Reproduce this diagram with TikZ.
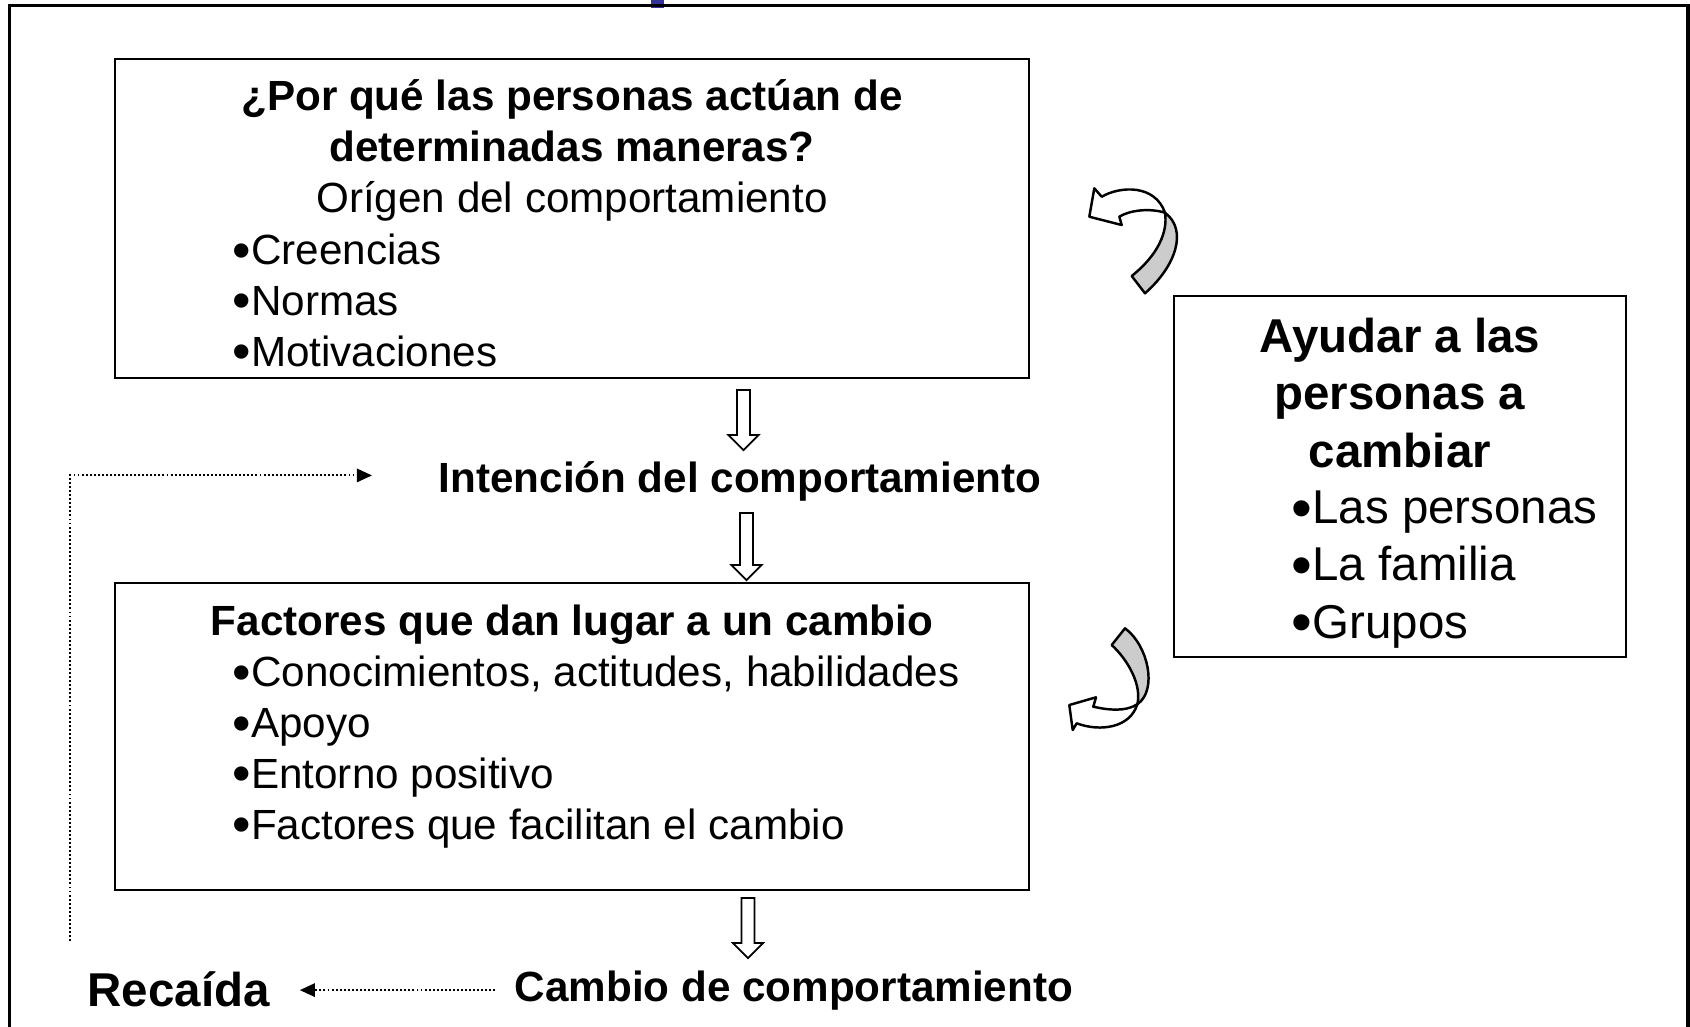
\documentclass[tikz,border=0pt]{standalone}
\usepackage{fontspec}
\setmainfont{Liberation Sans}
\usetikzlibrary{arrows.meta}
\definecolor{slideblue}{RGB}{51,51,153}

% slightly larger bullet, as in the slide
\newcommand{\bul}{\raisebox{-0.09em}{\scalebox{1.25}{•}}}
% hollow block arrow: x of axis, y of top, y of tip
\newcommand{\hollowarrow}[3]{%
  \draw[hollowline] (#1-6.5,#2) -- (#1+6.5,#2) -- (#1+6.5,#3-15) -- (#1+15,#3-15)
    -- (#1,#3) -- (#1-15,#3-15) -- (#1-6.5,#3-15) -- cycle;}

\begin{document}
\begin{tikzpicture}[x=0.01cm, y=-0.01cm,
    box/.style={draw, line width=0.6pt, inner sep=0pt},
    txt/.style={inner sep=0pt, font=\fontsize{12}{14.46}\selectfont},
    bigtxt/.style={inner sep=0pt, font=\fontsize{13.5}{16.25}\selectfont},
    hollowline/.style={draw, fill=white, line width=0.5pt, line join=miter},
    dotarrow/.style={line width=0.6pt, dash pattern=on 0.55pt off 0.6pt,
      -{Triangle[length=4.3pt,width=3.8pt]}},
    bendarrow/.style={draw, line width=0.7pt, line join=round}]

  \useasboundingbox (0,0) rectangle (1690,1026);

  % frame of the slide
  \fill[slideblue] (651,-2) rectangle (664,8);
  \draw[line width=0.9pt] (9.5,1040) -- (9.5,5.8) -- (1688,5.8) -- (1688,1040);

  % boxes
  \node[box, minimum width=9.14cm, minimum height=3.19cm] (origen) at (572,218.5) {};
  \node[box, minimum width=9.14cm, minimum height=3.07cm] (factores) at (572,736.5) {};
  \node[box, minimum width=4.52cm, minimum height=3.61cm] (ayudar) at (1400,476.5) {};

  % texts (base of a multi-line node = its last line)
  \node[txt, anchor=base, align=center] (origentitle) at (572,212)
    {\textbf{¿Por qué las personas actúan de}\\\textbf{determinadas maneras?}\\Orígen del comportamiento};
  \node[txt, anchor=base west, align=left] (origenlist) at (232,366)
    {\bul Creencias\\\bul Normas\\\bul Motivaciones};

  \node[txt, anchor=base] (intencion) at (740,492) {\textbf{Intención del comportamiento}};

  \node[txt, anchor=base] (factorestitle) at (572,635) {\textbf{Factores que dan lugar a un cambio}};
  \node[txt, anchor=base west, align=left] (factoreslist) at (232,839)
    {\bul Conocimientos, actitudes, habilidades\\\bul Apoyo\\\bul Entorno positivo\\\bul Factores que facilitan el cambio};

  \node[bigtxt, anchor=base, align=center] (ayudartitle) at (1400,467)
    {\textbf{Ayudar a las}\\\textbf{personas a}\\\textbf{cambiar}};
  \node[bigtxt, anchor=base west, align=left] (ayudarlist) at (1291,638)
    {\bul Las personas\\\bul La familia\\\bul Grupos};

  \node[txt, anchor=base] (cambio) at (794,1001) {\textbf{Cambio de comportamiento}};
  \node[bigtxt, anchor=base west] (recaida) at (87,1006) {\textbf{Recaída}};

  % block arrows
  \hollowarrow{743.5}{390}{450}
  \hollowarrow{746.5}{513}{580}
  \hollowarrow{748}{898}{958}

  % relapse loop
  \coordinate (relapsetip) at (cambio.west -| recaida.east);
  \coordinate (loopstart) at (70,941);
  \draw[dotarrow] ([xshift=-0.19cm]cambio.west) -- ([xshift=0.29cm]relapsetip);
  \draw[dotarrow] (loopstart) |- ([xshift=-0.66cm, yshift=0.055cm]intencion.west);

  % curved arrow, top
  \filldraw[bendarrow, fill=black!20] (1131.7,276) -- (1145,293.3)
    .. controls (1176,266) and (1188,230) .. (1165,212.7)
    .. controls (1168,232) and (1158,255) .. cycle;
  \filldraw[bendarrow, fill=white] (1165,212.7)
    .. controls (1150,208) and (1130,210) .. (1119.3,216.7)
    -- (1121.7,225) -- (1089.3,216.7) -- (1094.3,188.3) -- (1101.7,196.7)
    .. controls (1120,186) and (1155,184) .. cycle;

  % curved arrow, bottom
  \filldraw[bendarrow, fill=black!20] (1111.7,645) -- (1125,628.3)
    .. controls (1148,645) and (1158,690) .. (1137.3,704.3)
    .. controls (1142,685) and (1128,660) .. cycle;
  \filldraw[bendarrow, fill=white] (1137.3,704.3)
    .. controls (1125,712) and (1108,710) .. (1093.3,706.7)
    -- (1096,697.3) -- (1069.3,705) -- (1072.7,730) -- (1076.7,723.3)
    .. controls (1100,732) and (1130,728) .. cycle;

\end{tikzpicture}
\end{document}
